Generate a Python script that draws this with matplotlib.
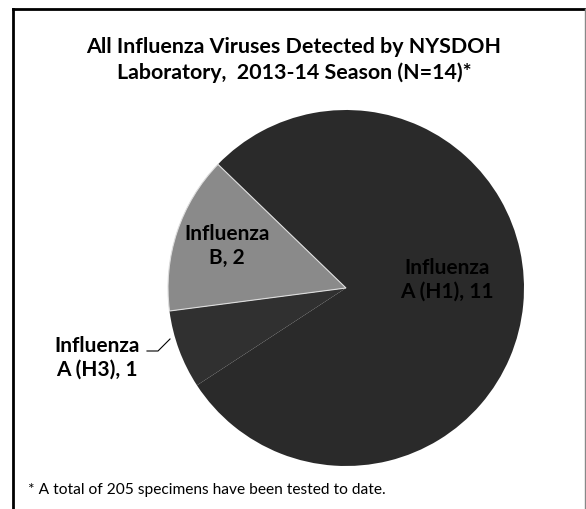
import matplotlib
matplotlib.use("Agg")
import matplotlib.pyplot as plt

# data
labels = ["Influenza\nA (H1), 11", "Influenza\nA (H3), 1", "Influenza\nB, 2"]
counts = [11, 1, 2]
colors = ["#2a2a2a", "#303030", "#8a8a8a"]
title = "All Influenza Viruses Detected by NYSDOH\nLaboratory,  2013-14 Season (N=14)*"
footnote = "* A total of 205 specimens have been tested to date."

W, H = 586, 510
fig = plt.figure(figsize=(W / 100, H / 100), dpi=100)
ax = fig.add_axes([0, 0, 1, 1])

def py(y):
    # pixel row from top -> data y
    return H - y

wedges, _ = ax.pie(counts, colors=colors, startangle=136, counterclock=False,
                   center=(346, py(289)), radius=178,
                   wedgeprops=dict(linewidth=0))
# only the light B slice shows a pale edge in the scan
wedges[2].set_edgecolor("#dddddd")
wedges[2].set_linewidth(0.8)
ax.set_xlim(0, W)
ax.set_ylim(0, H)
ax.set_aspect("auto")
ax.axis("off")

# frame around the chart
ax.plot([13, 13], [py(10), 0], color="black", lw=2)
ax.plot([13, 584], [py(10), py(10)], color="black", lw=2)
ax.plot([585, 585], [py(10), 0], color="#888888", lw=1)

font = "Lato"
ax.text(294, py(60), title, ha="center", va="center", fontsize=15.4,
        fontweight="bold", family=font, linespacing=1.35)

# slice labels
ax.text(227, py(246), labels[2], ha="center", va="center", fontsize=15,
        fontweight="bold", family=font, color="black", linespacing=1.25)
ax.text(447, py(280), labels[0], ha="center", va="center", fontsize=15,
        fontweight="bold", family=font, color="black", linespacing=1.25)
ax.text(97, py(358), labels[1], ha="center", va="center", fontsize=15,
        fontweight="bold", family=font, color="black", linespacing=1.25)
ax.plot([147, 158, 170], [py(352), py(352), py(340)], color="black", lw=0.8)

ax.text(28, py(490), footnote, ha="left", va="center", fontsize=11.2,
        family=font)

fig.savefig("out.png", dpi=100)
